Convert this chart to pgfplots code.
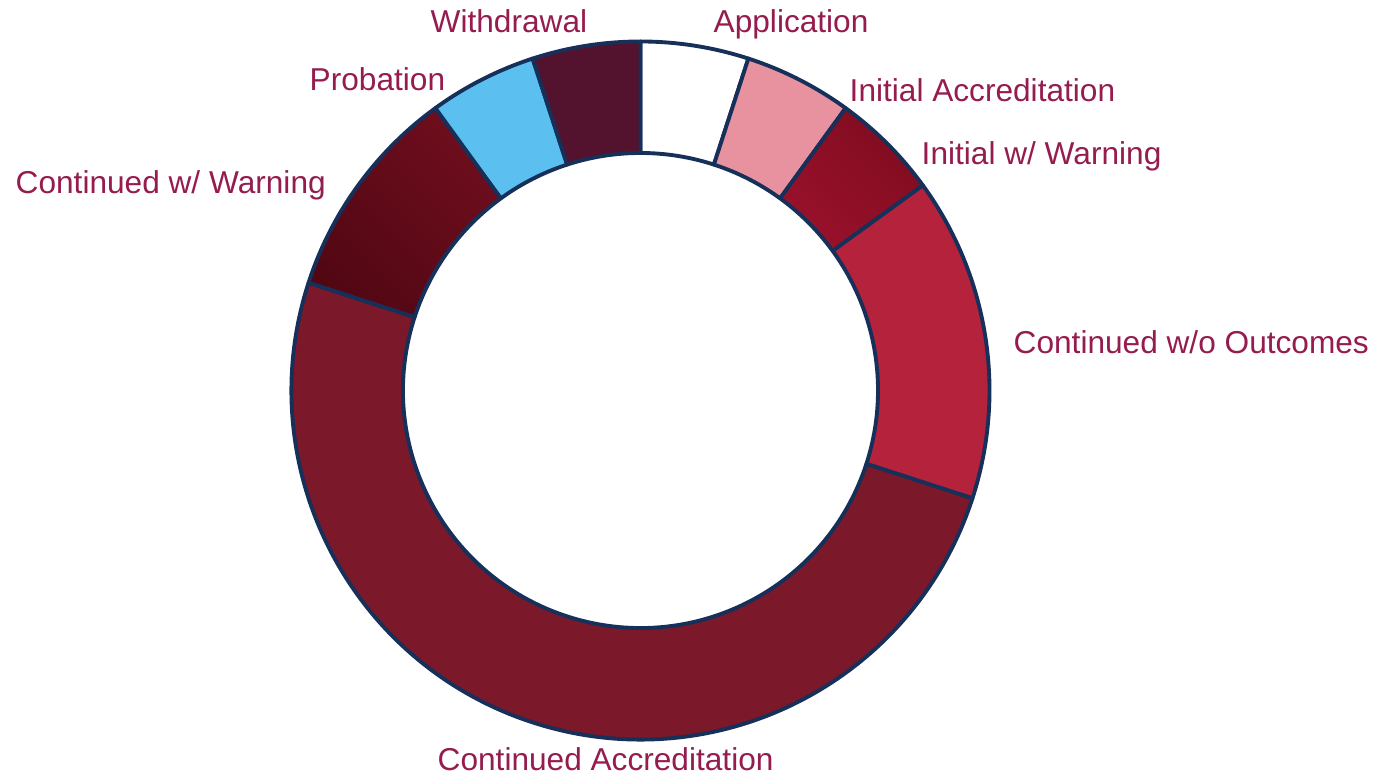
\documentclass[border=0pt]{standalone}
\usepackage{pgfplots}
\pgfplotsset{compat=1.18}
\usepackage{pgfplotstable}
\usetikzlibrary{calc}
\usepackage{fontspec}
\setmainfont{Liberation Sans}

\definecolor{edge}{HTML}{16305A}
\definecolor{labcol}{HTML}{951C4E}
\definecolor{cApp}{HTML}{FFFFFF}
\definecolor{cIA}{HTML}{E8929F}
\definecolor{cIWa}{HTML}{B8173A}
\definecolor{cIWb}{HTML}{850D22}
\definecolor{cCWa}{HTML}{4E0612}
\definecolor{cCWb}{HTML}{7A1021}
\definecolor{cCO}{HTML}{B5223C}
\definecolor{cCA}{HTML}{7B1829}
\definecolor{cPr}{HTML}{5BC0F0}
\definecolor{cWd}{HTML}{53132F}

% slices clockwise from 12 o'clock; label position in pixels (left, baseline)
\pgfplotstableread[col sep=comma]{
label,value,lx,ly,ca,cb
Application,1,713,33,cApp,cApp
Initial Accreditation,1,849,102,cIA,cIA
Initial w/ Warning,1,921,165,cIWa,cIWb
Continued w/o Outcomes,3,1013,354,cCO,cCO
Continued Accreditation,10,437,771,cCA,cCA
Continued w/ Warning,2,15,194,cCWa,cCWb
Probation,1,309,91,cPr,cPr
Withdrawal,1,430,33,cWd,cWd
}\slices

\def\cx{6.405}
\def\cy{3.855}
\def\rout{3.49cm}
\def\rin{2.375cm}

\begin{document}
\begin{tikzpicture}
\begin{axis}[
    x=1cm, y=1cm,
    xmin=0, xmax=13.8, ymin=0, ymax=7.76,
    hide axis, clip=false,
  ]
  \path (axis cs:0,0) rectangle (axis cs:13.8,7.76);
  \pgfplotsextra{
    \gdef\total{0}
    \foreach \i in {0,...,7}{
      \pgfplotstablegetelem{\i}{value}\of\slices
      \pgfmathsetmacro\t{\total+\pgfplotsretval}\xdef\total{\t}
    }
    \gdef\cumsum{0}
    \foreach \i in {0,...,7}{
      \pgfplotstablegetelem{\i}{value}\of\slices \let\v\pgfplotsretval
      \pgfplotstablegetelem{\i}{label}\of\slices \let\lab\pgfplotsretval
      \pgfplotstablegetelem{\i}{lx}\of\slices \let\lx\pgfplotsretval
      \pgfplotstablegetelem{\i}{ly}\of\slices \let\ly\pgfplotsretval
      \pgfplotstablegetelem{\i}{ca}\of\slices \let\ca\pgfplotsretval
      \pgfplotstablegetelem{\i}{cb}\of\slices \let\cb\pgfplotsretval
      \pgfmathsetmacro\aS{90-360*\cumsum/\total}
      \pgfmathsetmacro\aE{90-360*(\cumsum+\v)/\total}
      \pgfmathsetmacro\nc{\cumsum+\v}\xdef\cumsum{\nc}
      \path[draw=edge, line width=1.1pt, line join=round,
            bottom color=\ca, top color=\cb, shading angle=-45]
        (axis cs:\cx,\cy) ++(\aS:\rout)
        arc[start angle=\aS, end angle=\aE, radius=\rout]
        -- ($(axis cs:\cx,\cy)+(\aE:\rin)$)
        arc[start angle=\aE, end angle=\aS, radius=\rin] -- cycle;
      \pgfmathsetmacro\px{\lx/100}
      \pgfmathsetmacro\py{(776-\ly)/100}
      \node[anchor=base west, inner sep=0pt, text=labcol,
            font=\fontsize{9}{11}\selectfont] at (axis cs:\px,\py) {\lab};
    }
  }
\end{axis}
\end{tikzpicture}
\end{document}
